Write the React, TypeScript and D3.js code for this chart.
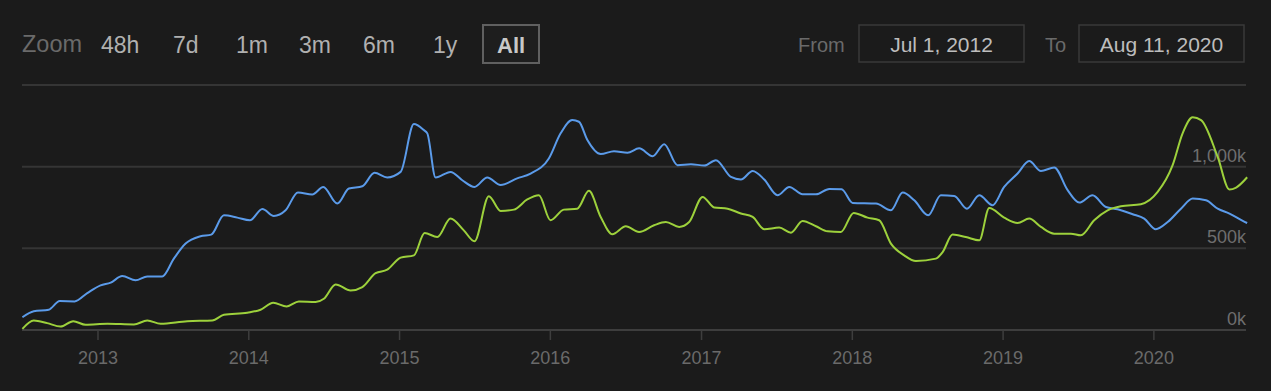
import React, { useEffect, useRef } from 'react';
import * as d3 from 'd3';

// [decimal year, value in thousands]
const blueSeries: [number, number][] = [
  [2012.5, 78], [2012.575, 115], [2012.674, 124], [2012.747, 177], [2012.845, 175],
  [2012.929, 226], [2013.017, 273], [2013.084, 290], [2013.161, 330], [2013.249, 304],
  [2013.327, 328], [2013.426, 328], [2013.503, 437], [2013.581, 529], [2013.68, 574],
  [2013.751, 584], [2013.835, 702], [2013.924, 688], [2014.007, 672], [2014.09, 741],
  [2014.166, 698], [2014.244, 733], [2014.326, 842], [2014.421, 830], [2014.494, 876],
  [2014.587, 774], [2014.664, 866], [2014.753, 880], [2014.834, 962], [2014.918, 934],
  [2015.007, 968], [2015.095, 1261], [2015.161, 1224], [2015.184, 1204], [2015.239, 934],
  [2015.338, 968], [2015.416, 917], [2015.497, 876], [2015.582, 934], [2015.67, 888],
  [2015.78, 928], [2015.869, 958], [2015.99, 1050], [2016.068, 1204], [2016.145, 1285],
  [2016.189, 1275], [2016.245, 1163], [2016.333, 1077], [2016.421, 1095], [2016.51, 1085],
  [2016.587, 1112], [2016.676, 1064], [2016.753, 1138], [2016.841, 1009], [2016.93, 1015],
  [2017.018, 1007], [2017.095, 1040], [2017.195, 937], [2017.261, 921], [2017.339, 974],
  [2017.416, 921], [2017.504, 825], [2017.582, 876], [2017.67, 831], [2017.759, 831],
  [2017.847, 864], [2017.929, 862], [2018.002, 778], [2018.157, 774], [2018.256, 733],
  [2018.334, 842], [2018.411, 794], [2018.503, 702], [2018.587, 825], [2018.676, 821],
  [2018.76, 743], [2018.842, 825], [2018.93, 764], [2019.007, 876], [2019.096, 958],
  [2019.173, 1034], [2019.251, 974], [2019.339, 995], [2019.428, 856], [2019.505, 780],
  [2019.593, 825], [2019.682, 753], [2019.759, 739], [2019.859, 709], [2019.936, 682],
  [2020.013, 617], [2020.091, 661], [2020.179, 743], [2020.257, 805], [2020.345, 794],
  [2020.422, 743], [2020.5, 713], [2020.588, 668], [2020.617, 655],
];

const greenSeries: [number, number][] = [
  [2012.5, 7], [2012.575, 58], [2012.664, 42], [2012.752, 21], [2012.836, 54],
  [2012.918, 32], [2013.062, 38], [2013.238, 34], [2013.327, 58], [2013.415, 38],
  [2013.592, 54], [2013.758, 58], [2013.835, 93], [2013.99, 106], [2014.078, 124],
  [2014.162, 167], [2014.251, 144], [2014.332, 175], [2014.443, 171], [2014.498, 191],
  [2014.576, 279], [2014.675, 242], [2014.753, 263], [2014.841, 348], [2014.918, 369],
  [2015.007, 443], [2015.095, 457], [2015.166, 594], [2015.25, 569], [2015.338, 682],
  [2015.426, 610], [2015.497, 543], [2015.592, 819], [2015.67, 729], [2015.758, 737],
  [2015.847, 799], [2015.924, 825], [2016.001, 672], [2016.089, 737], [2016.178, 743],
  [2016.255, 852], [2016.333, 692], [2016.41, 586], [2016.499, 635], [2016.587, 600],
  [2016.686, 641], [2016.764, 661], [2016.852, 631], [2016.918, 661], [2017.007, 815],
  [2017.084, 750], [2017.173, 743], [2017.261, 713], [2017.339, 692], [2017.416, 617],
  [2017.515, 627], [2017.593, 596], [2017.67, 668], [2017.759, 635], [2017.836, 604],
  [2017.924, 600], [2018.009, 717], [2018.101, 688], [2018.178, 672], [2018.256, 529],
  [2018.344, 457], [2018.422, 422], [2018.554, 437], [2018.599, 477], [2018.665, 584],
  [2018.753, 569], [2018.842, 549], [2018.908, 747], [2019.007, 688], [2019.096, 655],
  [2019.173, 682], [2019.251, 631], [2019.339, 590], [2019.45, 590], [2019.516, 580],
  [2019.604, 672], [2019.693, 733], [2019.781, 758], [2019.914, 770], [2020.025, 845],
  [2020.124, 1009], [2020.19, 1204], [2020.257, 1302], [2020.312, 1285], [2020.422, 1060],
  [2020.5, 860], [2020.544, 872], [2020.617, 935],
];

const zoomButtons = ['48h', '7d', '1m', '3m', '6m', '1y', 'All'];
const yTicks = [0, 500, 1000, 1500];
const fromLabel = 'Jul 1, 2012';
const toLabel = 'Aug 11, 2020';

const W = 1271;
const H = 391;
const FONT = '"Liberation Sans", Arial, Helvetica, sans-serif';

function yearToDate(y: number): Date {
  const yr = Math.floor(y);
  const start = new Date(yr, 0, 1).getTime();
  const end = new Date(yr + 1, 0, 1).getTime();
  return new Date(start + (y - yr) * (end - start));
}

const App: React.FC = () => {
  const ref = useRef<SVGSVGElement>(null);

  useEffect(() => {
    document.body.style.margin = '0';
    document.body.style.background = '#1b1b1b';
    const svg = d3.select(ref.current);
    svg.selectAll('*').remove();

    svg.append('rect').attr('width', W).attr('height', H).attr('fill', '#1b1b1b');

    const x = d3.scaleTime()
      .domain([new Date(2012, 6, 1), new Date(2020, 7, 11)])
      .range([22, 1246]);
    const y = d3.scaleLinear().domain([0, 1500]).range([330, 85]);

    // range selector
    const top = svg.append('g').attr('font-family', FONT);
    top.append('text').attr('x', 22).attr('y', 52).attr('font-size', 23.5)
      .attr('fill', '#6a6a6a').text('Zoom');
    const btnX = [101, 173, 236, 299, 363, 433, 497];
    zoomButtons.forEach((b, i) => {
      const isAll = b === 'All';
      if (isAll) {
        top.append('rect').attr('x', 483).attr('y', 25).attr('width', 56).attr('height', 38)
          .attr('fill', '#1e1e1e').attr('stroke', '#606060').attr('stroke-width', 2);
      }
      top.append('text').attr('x', btnX[i]).attr('y', 53).attr('font-size', isAll ? 22 : 23)
        .attr('font-weight', isAll ? 'bold' : 'normal')
        .attr('fill', isAll ? '#c8c8c8' : '#b0b0b0').text(b);
    });

    top.append('text').attr('x', 798).attr('y', 52).attr('font-size', 20)
      .attr('fill', '#6a6a6a').text('From');
    top.append('text').attr('x', 1045).attr('y', 52).attr('font-size', 20)
      .attr('fill', '#6a6a6a').text('To');
    [[859, fromLabel], [1079, toLabel]].forEach(([bx, label]) => {
      top.append('rect').attr('x', bx as number).attr('y', 25).attr('width', 165).attr('height', 37)
        .attr('fill', 'none').attr('stroke', '#3a3a3a').attr('stroke-width', 1.5);
      top.append('text').attr('x', (bx as number) + 82.5).attr('y', 52).attr('font-size', 21)
        .attr('text-anchor', 'middle').attr('fill', '#bdbdbd').text(label as string);
    });

    // grid
    svg.append('g').selectAll('line').data(yTicks).enter().append('line')
      .attr('x1', 22).attr('x2', 1246)
      .attr('y1', (d) => y(d)).attr('y2', (d) => y(d))
      .attr('stroke', (d) => (d === 0 ? '#3e3e3e' : '#353535'))
      .attr('stroke-width', 2);

    // y labels
    svg.append('g').selectAll('text').data(yTicks.filter((d) => d < 1500)).enter().append('text')
      .attr('x', 1246).attr('y', (d) => y(d) - 5)
      .attr('text-anchor', 'end').attr('font-family', FONT).attr('font-size', 18)
      .attr('fill', '#6e6e6e').text((d) => `${d3.format(',')(d)}k`);

    // x axis ticks and labels
    const xt = x.ticks(d3.timeYear.every(1) as d3.TimeInterval);
    const gx = svg.append('g');
    gx.selectAll('line').data(xt).enter().append('line')
      .attr('x1', (d) => x(d)).attr('x2', (d) => x(d)).attr('y1', 330).attr('y2', 340)
      .attr('stroke', '#3e3e3e').attr('stroke-width', 1.5);
    gx.selectAll('text').data(xt).enter().append('text')
      .attr('x', (d) => x(d)).attr('y', 364).attr('text-anchor', 'middle')
      .attr('font-family', FONT).attr('font-size', 18).attr('fill', '#6a6a6a')
      .text((d) => d3.timeFormat('%Y')(d));

    // series
    const line = d3.line<[number, number]>()
      .x((d) => x(yearToDate(d[0])))
      .y((d) => y(d[1]))
      .curve(d3.curveMonotoneX);

    svg.append('path').datum(blueSeries).attr('d', line)
      .attr('fill', 'none').attr('stroke', '#5b9bea').attr('stroke-width', 2);
    svg.append('path').datum(greenSeries).attr('d', line)
      .attr('fill', 'none').attr('stroke', '#9dd13c').attr('stroke-width', 2);
  }, []);

  return (
    <svg ref={ref} width={W} height={H} style={{ display: 'block' }}></svg>
  );
};

export default App;
